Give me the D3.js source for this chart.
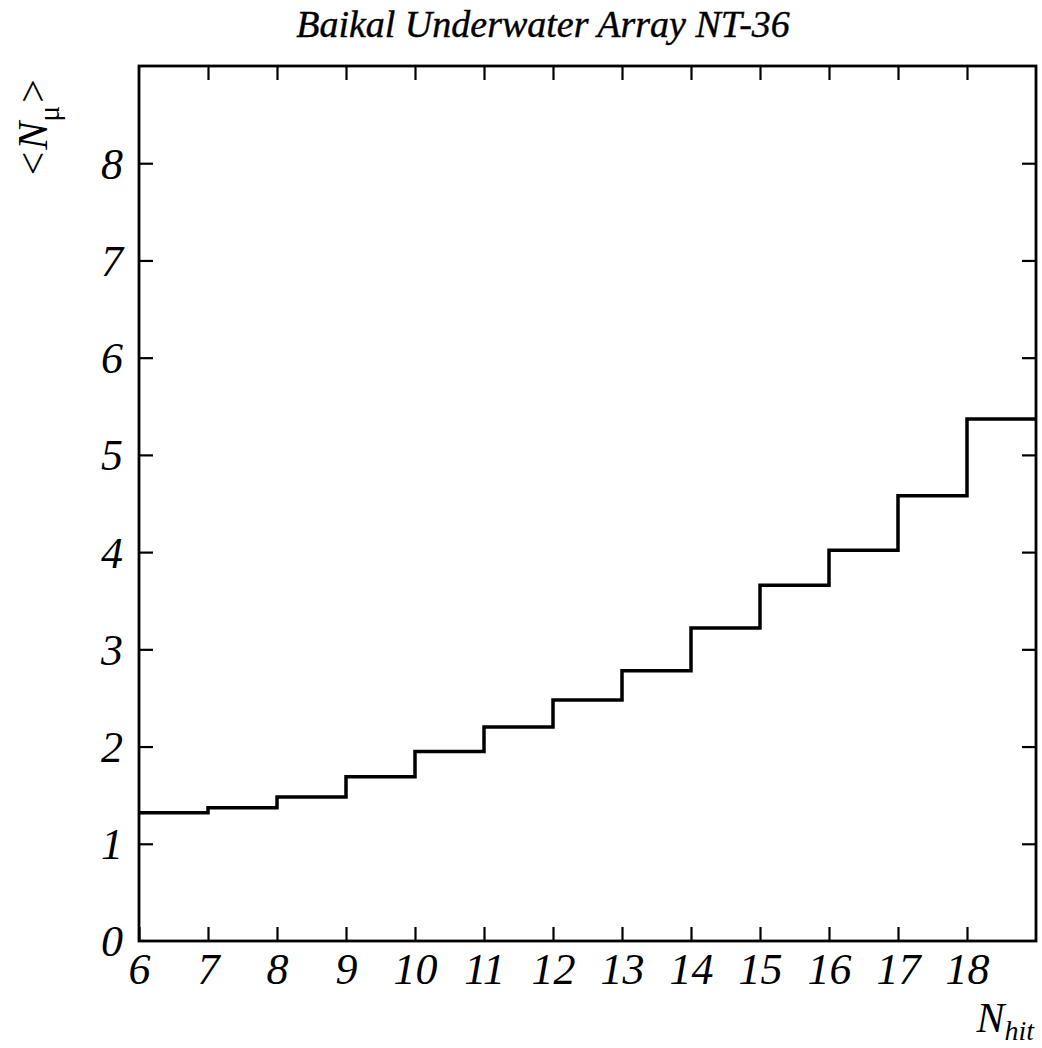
<!DOCTYPE html>
<html>
<head>
<meta charset="utf-8">
<script src="https://cdn.jsdelivr.net/npm/d3@7"></script>
<style>
  html, body { margin: 0; padding: 0; background: #fff; }
  svg { display: block; }
  text { font-family: "Liberation Serif", "DejaVu Serif", serif; font-style: italic; fill: #000; }
</style>
</head>
<body>
<svg id="chart" width="1042" height="1048"></svg>
<script>
// ---- data ----
const binEdges = [6, 7, 8, 9, 10, 11, 12, 13, 14, 15, 16, 17, 18, 19];
const meanNmu  = [1.32, 1.37, 1.48, 1.69, 1.95, 2.20, 2.48, 2.78, 3.22, 3.66, 4.02, 4.58, 5.37];
const xTickValues = [6, 7, 8, 9, 10, 11, 12, 13, 14, 15, 16, 17, 18];
const yTickValues = [0, 1, 2, 3, 4, 5, 6, 7, 8];
const titleText = "Baikal Underwater Array NT-36";

// ---- layout ----
const svg = d3.select("#chart");
const L = 139, R = 1036, T = 66, B = 941;

const x = d3.scaleLinear().domain([6, 19]).range([L, R]);
const y = d3.scaleLinear().domain([0, 9]).range([B, T]);

// histogram
const pts = meanNmu.map((v, i) => [binEdges[i], v]);
pts.push([binEdges[binEdges.length - 1], meanNmu[meanNmu.length - 1]]);
const line = d3.line().x(d => x(d[0])).y(d => y(d[1])).curve(d3.curveStepAfter);
svg.append("path").attr("d", line(pts))
  .attr("fill", "none").attr("stroke", "#000").attr("stroke-width", 3.5);

// axes
const tickLen = 14;
function styleAxis(g) {
  g.select(".domain").remove();
  g.selectAll(".tick line").attr("stroke", "#000").attr("stroke-width", 2.2);
}
const labelFont = "44px";
const gB = svg.append("g").attr("transform", `translate(0,${B})`)
  .call(d3.axisBottom(x).tickValues(xTickValues).tickSize(-tickLen).tickPadding(0).tickFormat(d3.format("d")));
styleAxis(gB);
gB.selectAll(".tick text").attr("y", 43).attr("dy", 0)
  .style("font-size", labelFont).style("font-family", "'Liberation Serif', serif").style("font-style", "italic");

const gT = svg.append("g").attr("transform", `translate(0,${T})`)
  .call(d3.axisTop(x).tickValues(xTickValues.slice(1)).tickSize(-tickLen).tickFormat(""));
styleAxis(gT);

const gL = svg.append("g").attr("transform", `translate(${L},0)`)
  .call(d3.axisLeft(y).tickValues(yTickValues.slice(1)).tickSize(-tickLen).tickFormat(""));
styleAxis(gL);
const gL2 = svg.append("g").attr("transform", `translate(${L},0)`)
  .call(d3.axisLeft(y).tickValues(yTickValues).tickSize(0).tickPadding(16).tickFormat(d3.format("d")));
gL2.select(".domain").remove();
gL2.selectAll(".tick line").remove();
gL2.selectAll(".tick text").attr("dy", "0.34em")
  .style("font-size", labelFont).style("font-family", "'Liberation Serif', serif").style("font-style", "italic");

const gR = svg.append("g").attr("transform", `translate(${R},0)`)
  .call(d3.axisRight(y).tickValues(yTickValues.slice(1)).tickSize(-tickLen).tickFormat(""));
styleAxis(gR);

// frame
svg.append("rect").attr("x", L).attr("y", T).attr("width", R - L).attr("height", B - T)
  .attr("fill", "none").attr("stroke", "#000").attr("stroke-width", 2.8);

// title
svg.append("text").attr("x", 543).attr("y", 37).attr("text-anchor", "middle")
  .style("font-size", "38px").style("stroke", "#000").style("stroke-width", 0.4).text(titleText);

// x label
const xl = svg.append("text").attr("x", 1034).attr("y", 1032).attr("text-anchor", "end");
xl.append("tspan").style("font-size", "42px").text("N");
xl.append("tspan").attr("dy", 8).style("font-size", "28px").text("hit");

// y label
const yl = svg.append("text").attr("transform", "translate(47,178) rotate(-90)").attr("text-anchor", "start")
  .style("font-size", "42px");
yl.append("tspan").text("<N");
yl.append("tspan").attr("dy", 12).style("font-size", "30px").style("font-style", "normal").text("μ");
yl.append("tspan").attr("dy", -12).text(">");
</script>
</body>
</html>
